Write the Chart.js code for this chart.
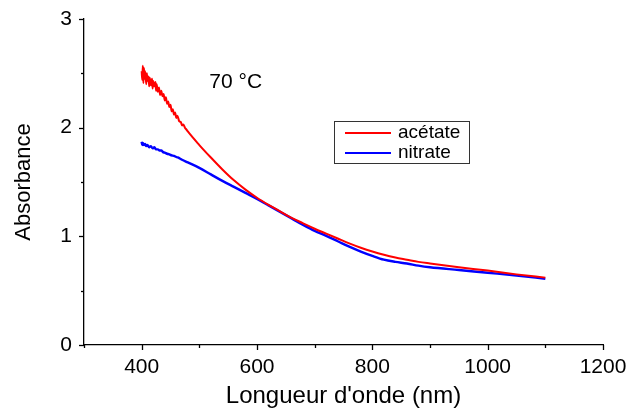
<!DOCTYPE html>
<html lang="fr">
<head>
<meta charset="UTF-8">
<title>Absorbance 70 °C</title>
<script src="https://cdn.jsdelivr.net/npm/chart.js"></script>
<style>
    html, body { margin: 0; padding: 0; background: #fff; }
    #wrap { width: 628px; height: 411px; position: relative; }
</style>
</head>
<body>
<div id="wrap"><canvas id="spectre"></canvas></div>
<script>
// --- DATA ---
const acetateWl = [400, 401, 402, 403, 404, 405, 406, 408, 409, 410, 412, 413, 414, 416, 418, 419, 420, 422, 424, 425, 426, 428, 430, 432, 434, 436, 438, 440, 442, 444, 446, 448, 450, 452, 454, 456, 458, 460, 462, 465, 468, 470, 472, 475, 478,
    480, 500, 520, 540, 560, 580, 600, 620, 640, 660, 680, 700, 720, 740, 760, 780, 800, 820, 840, 860, 880, 900, 950, 1000, 1050, 1100];
const acetateAbs = [2.52, 2.44, 2.57, 2.41, 2.55, 2.45, 2.52, 2.40, 2.50, 2.43, 2.47, 2.38, 2.46, 2.39, 2.45, 2.36, 2.43, 2.38, 2.42, 2.34, 2.40, 2.33, 2.37, 2.30, 2.34, 2.29, 2.31, 2.25, 2.28, 2.22, 2.24, 2.19, 2.21, 2.15, 2.17, 2.12, 2.14, 2.09, 2.11, 2.06, 2.05, 2.02, 2.03, 2.00, 1.98,
    1.965, 1.84, 1.725, 1.615, 1.515, 1.43, 1.355, 1.29, 1.23, 1.17, 1.12, 1.07, 1.025, 0.98, 0.935, 0.895, 0.86, 0.83, 0.805, 0.785, 0.765, 0.75, 0.715, 0.685, 0.65, 0.62];

const nitrateWl = [400, 401, 402, 404, 406, 408, 410, 413, 416, 419, 422, 425, 428, 431, 434, 437, 440, 444, 448, 452, 456, 460, 465, 470,
    480, 500, 520, 540, 560, 580, 600, 620, 640, 660, 680, 700, 720, 740, 760, 780, 800, 820, 840, 860, 880, 900, 950, 1000, 1050, 1100];
const nitrateAbs = [1.87, 1.84, 1.86, 1.84, 1.85, 1.83, 1.84, 1.82, 1.83, 1.81, 1.82, 1.80, 1.80, 1.79, 1.79, 1.775, 1.77, 1.76, 1.755, 1.745, 1.74, 1.73, 1.72, 1.705,
    1.68, 1.63, 1.57, 1.51, 1.455, 1.40, 1.345, 1.285, 1.225, 1.165, 1.105, 1.05, 1.005, 0.955, 0.905, 0.86, 0.82, 0.785, 0.765, 0.75, 0.73, 0.715, 0.69, 0.665, 0.64, 0.61];

const seriesNames = ['acétate', 'nitrate'];
const xTicks = [400, 600, 800, 1000, 1200];
const yTicks = [0, 1, 2, 3];
const annotation = '70 °C';

// --- CHART ---
const FONT = "'Liberation Sans', Arial, sans-serif";
const toPoints = (xs, ys) => xs.map((x, i) => ({ x: x, y: ys[i] }));

// small outward ticks, long for labelled values, short for the halves
const tickMarks = {
    id: 'tickMarks',
    afterDraw(chart) {
        const ctx = chart.ctx;
        const xs = chart.scales.x, ys = chart.scales.y;
        ctx.save();
        ctx.strokeStyle = '#000';
        ctx.lineWidth = 1.3;
        for (let v = xs.min; v <= xs.max; v += 100) {
            const px = Math.round(xs.getPixelForValue(v)) + 0.5;
            const len = xTicks.includes(v) ? 5 : 3;
            ctx.beginPath(); ctx.moveTo(px, xs.top); ctx.lineTo(px, xs.top + len); ctx.stroke();
        }
        for (let v = ys.min; v <= ys.max; v += 0.5) {
            const py = Math.round(ys.getPixelForValue(v)) + 0.5;
            const len = yTicks.includes(v) ? 5 : 3;
            ctx.beginPath(); ctx.moveTo(ys.right, py); ctx.lineTo(ys.right - len, py); ctx.stroke();
        }
        ctx.restore();
    }
};

// boxed legend + temperature note
const extras = {
    id: 'extras',
    afterDraw(chart) {
        const ctx = chart.ctx;
        ctx.save();
        ctx.fillStyle = '#000';
        ctx.font = '21px ' + FONT;
        ctx.textAlign = 'center';
        ctx.textBaseline = 'middle';
        ctx.fillText(annotation, chart.scales.x.getPixelForValue(563), chart.scales.y.getPixelForValue(2.42));

        ctx.strokeStyle = '#333';
        ctx.lineWidth = 1;
        ctx.strokeRect(334.5, 121.5, 135, 42);
        ctx.font = '19px ' + FONT;
        ctx.textAlign = 'left';
        chart.data.datasets.forEach((ds, i) => {
            const y = 133 + i * 20;
            ctx.strokeStyle = ds.borderColor;
            ctx.lineWidth = 2;
            ctx.beginPath(); ctx.moveTo(345, y); ctx.lineTo(391, y); ctx.stroke();
            ctx.fillStyle = '#000';
            ctx.fillText(ds.label, 398, y);
        });
        ctx.restore();
    }
};

new Chart(document.getElementById('spectre'), {
    type: 'line',
    data: {
        datasets: [
            { label: seriesNames[0], data: toPoints(acetateWl, acetateAbs), borderColor: '#ff0000', borderWidth: 2, pointRadius: 0, cubicInterpolationMode: 'monotone', fill: false },
            { label: seriesNames[1], data: toPoints(nitrateWl, nitrateAbs), borderColor: '#0000ff', borderWidth: 2.4, pointRadius: 0, cubicInterpolationMode: 'monotone', fill: false }
        ]
    },
    options: {
        responsive: true,
        maintainAspectRatio: false,
        animation: false,
        layout: { padding: { top: 19, right: 25, left: 0, bottom: 0 } },
        plugins: { legend: { display: false }, tooltip: { enabled: false } },
        scales: {
            x: {
                type: 'linear', min: 300, max: 1200,
                afterFit: s => { s.height = 66; s.paddingLeft = 0; s.paddingRight = 0; },
                border: { display: true, color: '#000', width: 1.3 },
                grid: { display: false, drawTicks: false },
                ticks: {
                    stepSize: 200, autoSkip: false, maxRotation: 0, padding: 10,
                    color: '#000', font: { family: FONT, size: 21 },
                    callback: v => xTicks.includes(v) ? v : ''
                },
                title: { display: true, text: "Longueur d'onde (nm)", color: '#000', font: { family: FONT, size: 24 }, padding: { top: 4, bottom: 0 } }
            },
            y: {
                min: 0, max: 3,
                afterFit: s => { s.width = 84; s.paddingTop = 0; s.paddingBottom = 0; },
                border: { display: true, color: '#000', width: 1.3 },
                grid: { display: false, drawTicks: false },
                ticks: {
                    stepSize: 1, autoSkip: false, padding: 12,
                    color: '#000', font: { family: FONT, size: 21 },
                    callback: v => yTicks.includes(v) ? v : ''
                },
                title: { display: true, text: 'Absorbance', color: '#000', font: { family: FONT, size: 22 }, padding: { top: 11, bottom: 0 } }
            }
        }
    },
    plugins: [tickMarks, extras]
});
</script>
</body>
</html>
